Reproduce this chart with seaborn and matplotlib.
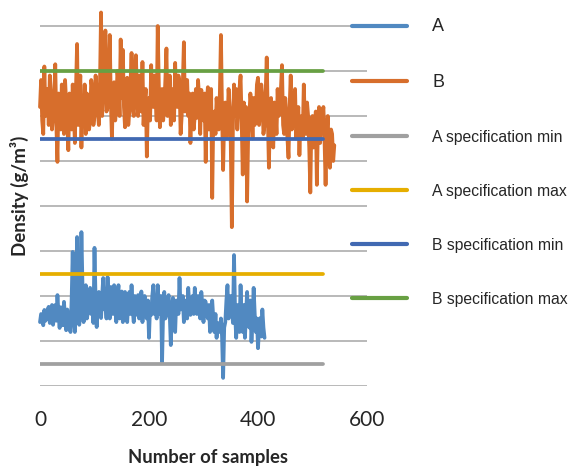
import numpy as np
import pandas as pd
import matplotlib
matplotlib.use("Agg")
import matplotlib.pyplot as plt
import seaborn as sns

# ---------------- data ----------------
step = 2
series_b = [
    6.2, 6.8, 5.9, 5.6, 7.1, 6.0, 6.3, 6.6, 5.8, 6.9, 6.5, 5.7, 6.0, 6.4, 7.15, 5.8, 4.98, 6.5, 6.2, 5.7,
    6.7, 6.0, 5.6, 6.8, 6.3, 5.9, 5.24, 6.5, 6.0, 5.7, 6.7, 6.1, 5.4, 6.6, 7.6, 5.8, 6.4, 6.9, 5.3, 6.3,
    6.0, 6.7, 5.6, 6.5, 6.35, 5.7, 5.9, 6.8, 6.6, 5.8, 6.0, 6.9, 6.6, 6.1, 5.8, 6.7, 8.3, 6.0, 6.6, 7.2,
    7.9, 6.1, 6.2, 6.9, 7.8, 6.3, 5.5, 6.6, 6.75, 5.9, 6.2, 7.0, 6.75, 6.0, 7.7, 6.4, 7.47, 6.2, 5.75, 6.6,
    6.85, 5.8, 6.1, 6.7, 7.4, 6.2, 6.0, 6.9, 7.35, 6.4, 6.0, 6.9, 6.6, 6.1, 7.2, 5.8, 6.3, 6.6, 5.1, 6.2,
    6.4, 5.9, 7.13, 6.3, 6.2, 6.9, 6.5, 5.9, 8.0, 6.7, 5.75, 6.4, 6.6, 5.9, 6.2, 6.8, 7.5, 6.0, 6.3, 6.9,
    5.8, 6.6, 6.5, 5.9, 7.18, 6.3, 6.2, 6.9, 6.75, 5.6, 6.0, 6.7, 7.64, 6.1, 6.4, 6.8, 6.0, 6.5, 5.4, 6.2,
    6.5, 5.7, 6.0, 6.6, 5.96, 6.8, 6.4, 5.6, 6.58, 6.1, 5.9, 6.5, 4.98, 6.3, 6.64, 5.7, 6.0, 6.6, 4.18, 6.0,
    6.1, 5.6, 6.4, 6.0, 5.7, 6.5, 7.8, 6.1, 4.8, 6.0, 6.3, 5.5, 5.8, 6.6, 6.2, 5.4, 3.53, 5.8, 6.7, 6.0,
    6.6, 5.7, 6.2, 6.6, 6.9, 5.9, 4.7, 6.3, 5.6, 6.2, 4.1, 5.6, 5.96, 6.5, 6.2, 5.5, 6.4, 5.8, 6.0, 6.7,
    6.85, 5.8, 6.2, 6.7, 6.4, 5.6, 5.8, 6.5, 7.3, 6.0, 4.85, 6.1, 6.4, 5.6, 5.3, 6.3, 6.1, 5.6, 6.6, 6.0,
    6.2, 6.6, 7.13, 5.8, 5.6, 6.4, 6.0, 5.5, 5.07, 6.2, 6.9, 5.7, 5.8, 6.4, 6.6, 5.5, 5.8, 6.2, 5.13, 5.9,
    6.0, 5.5, 6.7, 5.9, 5.6, 6.3, 6.0, 5.3, 4.3, 5.9, 6.0, 5.3, 5.4, 6.1, 4.47, 5.8, 6.2, 5.4, 5.8, 6.0,
    6.2, 5.5, 4.47, 5.6, 6.0, 5.1, 4.85, 5.7, 5.6, 5.0, 5.35,
]
series_a = [
    1.42, 1.6, 1.58, 1.35, 1.69, 1.45, 1.5, 1.7, 1.76, 1.4, 1.58, 1.8, 1.36, 1.6, 1.8, 1.45, 2.02, 1.6, 1.29, 1.75,
    1.6, 1.35, 1.87, 1.5, 1.24, 1.7, 1.5, 1.3, 1.2, 1.9, 2.98, 1.5, 1.2, 1.8, 3.31, 2.0, 1.36, 1.7, 3.42, 2.2,
    1.42, 1.9, 2.24, 1.5, 1.64, 2.0, 2.18, 1.6, 1.8, 1.4, 3.07, 1.9, 1.31, 1.8, 2.09, 1.6, 1.51, 2.0, 2.4, 1.7,
    1.9, 1.5, 2.42, 1.8, 1.5, 2.2, 2.1, 1.6, 2.24, 1.8, 1.42, 2.0, 2.24, 1.5, 1.6, 2.1, 1.42, 1.9, 2.09, 1.6,
    1.42, 1.9, 2.09, 1.6, 2.24, 1.7, 1.42, 2.0, 1.58, 1.85, 2.02, 1.5, 1.7, 2.1, 1.42, 1.75, 2.0, 1.6, 1.5, 1.9,
    1.07, 1.8, 1.58, 2.0, 2.24, 1.6, 1.87, 1.5, 2.24, 1.8, 1.6, 2.0, 0.53, 1.7, 2.09, 1.5, 1.6, 1.9, 2.02, 1.6,
    0.91, 1.7, 1.96, 1.5, 1.2, 1.9, 1.8, 1.6, 2.4, 1.7, 1.8, 2.0, 1.42, 1.7, 1.9, 1.5, 2.18, 1.8, 1.58, 1.9,
    2.0, 1.6, 2.18, 1.7, 1.6, 2.0, 1.87, 1.5, 2.09, 1.8, 1.42, 1.9, 1.87, 1.6, 1.5, 1.8, 1.2, 1.7, 1.9, 1.5,
    1.2, 1.6, 1.07, 1.4, 1.36, 1.2, 1.5, 1.1, 0.18, 1.3, 1.42, 1.9, 2.24, 1.5, 1.7, 2.0, 1.8, 1.4, 2.91, 1.6,
    1.07, 1.8, 1.51, 1.2, 2.24, 1.5, 1.2, 1.8, 1.07, 1.6, 2.09, 1.4, 1.3, 1.9, 0.98, 1.5, 2.18, 1.6, 1.2, 1.5,
    0.84, 1.3, 1.51, 1.1, 1.7, 1.3, 1.07,
]
spec_x = [0, 520]
a_spec_min = 0.5
a_spec_max = 2.5
b_spec_min = 5.5
b_spec_max = 7.0
x_ticks = [0, 200, 400, 600]

# ---------------- style ----------------
sns.set_style("white")
plt.rcParams["font.family"] = ["Liberation Sans", "DejaVu Sans"]

W, H = 583, 468
fig = plt.figure(figsize=(W / 100, H / 100), dpi=100)
top_px, bot_px, left_px, right_px = 8, 386, 40, 367
ax = fig.add_axes([left_px / W, 1 - bot_px / H,
                   (right_px - left_px) / W, (bot_px - top_px) / H])

df_a = pd.DataFrame({"x": np.arange(len(series_a)) * step, "y": series_a})
df_b = pd.DataFrame({"x": np.arange(len(series_b)) * step, "y": series_b})

c_a = "#5189C1"
c_b = "#D76E2C"
c_amin = "#A0A0A0"
c_amax = "#E6AE00"
c_bmin = "#4169B2"
c_bmax = "#68A043"

sns.lineplot(data=df_a, x="x", y="y", ax=ax, color=c_a, lw=2.7, label="A",
             estimator=None, sort=False, clip_on=False,
             solid_joinstyle="round", solid_capstyle="round")
sns.lineplot(data=df_b, x="x", y="y", ax=ax, color=c_b, lw=2.7, label="B",
             estimator=None, sort=False, clip_on=False,
             solid_joinstyle="round", solid_capstyle="round")
for val, col, lab in [(a_spec_min, c_amin, "A specification min"),
                      (a_spec_max, c_amax, "A specification max"),
                      (b_spec_min, c_bmin, "B specification min"),
                      (b_spec_max, c_bmax, "B specification max")]:
    sns.lineplot(x=spec_x, y=[val, val], ax=ax, color=col, lw=2.7, label=lab,
                 solid_capstyle="round")

ax.set_xlim(0, 600)
ax.set_ylim(0, (bot_px - top_px) / 45.0)
ax.set_yticks(range(0, 9))
ax.set_yticklabels([])
ax.set_xticks(x_ticks)
ax.set_xticklabels([str(t) for t in x_ticks], fontsize=15,
                   fontfamily="Lato")
ax.tick_params(axis="both", length=0)
ax.tick_params(axis="x", pad=17)
ax.grid(axis="y", color="#A6A6A6", lw=1.1)
ax.set_axisbelow(True)
for s in ax.spines.values():
    s.set_visible(False)

ax.set_xlabel("Number of samples", fontsize=13.3, fontweight="bold",
              fontfamily="Lato")
ax.xaxis.set_label_coords((208 - left_px) / (right_px - left_px),
                          (bot_px - 449) / (bot_px - top_px))
ax.set_ylabel("Density (g/m³)", fontsize=13.5, fontweight="bold",
              fontfamily="Lato")
ax.yaxis.set_label_coords((29 - left_px) / (right_px - left_px),
                          (bot_px - 196) / (bot_px - top_px))

handles, labels = ax.get_legend_handles_labels()
ax.get_legend().remove()
leg = fig.legend(handles, labels, loc="upper left",
                 bbox_to_anchor=(352 / W, 1 - 18 / H),
                 frameon=False, fontsize=11.3, handlelength=3.5,
                 handletextpad=1.6, labelspacing=2.48, borderpad=0,
                 borderaxespad=0)
for line in leg.get_lines():
    line.set_linewidth(3)
    line.set_solid_capstyle("round")
for t in leg.get_texts()[:2]:
    t.set_fontsize(13)

fig.savefig("out.png", dpi=100)
